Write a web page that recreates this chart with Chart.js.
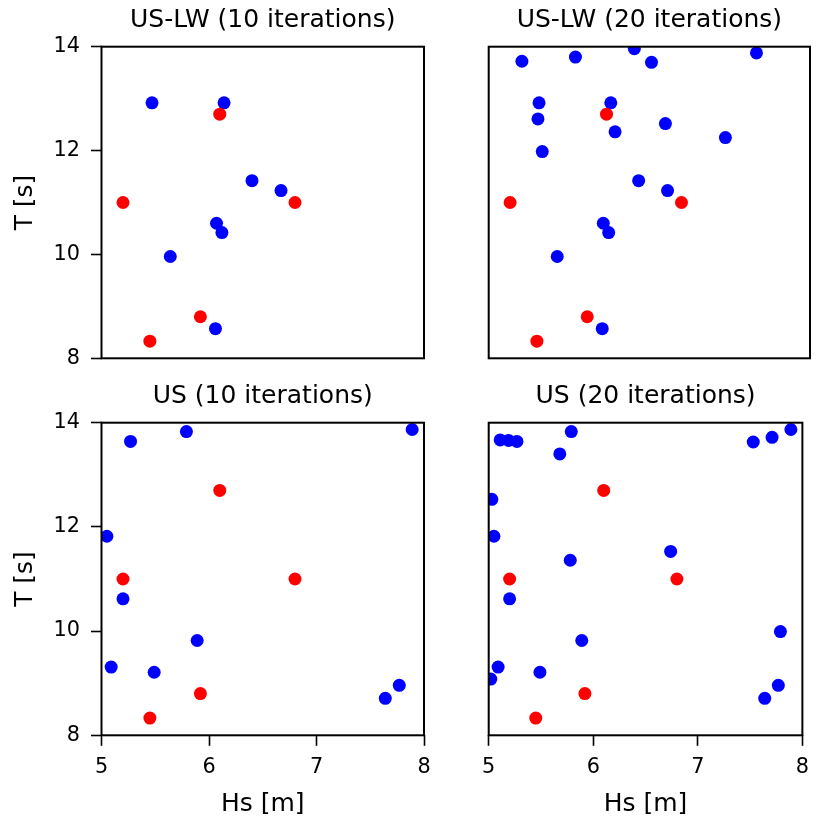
<!DOCTYPE html>
<html lang="en">
<head>
<meta charset="UTF-8">
<title>Hs / T scatter</title>
<script src="https://cdn.jsdelivr.net/npm/chart.js"></script>
<style>
  body { margin: 0; background: #fff; }
  #fig { position: relative; width: 818px; height: 822px; }
  canvas { position: absolute; }
</style>
</head>
<body>
<div id="fig">
  <canvas id="c1" width="440" height="390" style="left:0;top:0"></canvas>
  <canvas id="c2" width="378" height="390" style="left:440px;top:0"></canvas>
  <canvas id="c3" width="440" height="442" style="left:0;top:380px"></canvas>
  <canvas id="c4" width="378" height="442" style="left:440px;top:380px"></canvas>
</div>
<script>
// red points, same in every panel
const redHs = [5.20, 6.10, 6.80, 5.92, 5.45];
const redT  = [11.00, 12.70, 11.00, 8.80, 8.33];

// US-LW, 10 iterations
const uslw10Hs = [5.47, 6.14, 6.40, 6.67, 6.07, 6.12, 5.64, 6.06];
const uslw10T  = [12.92, 12.92, 11.42, 11.23, 10.60, 10.42, 9.96, 8.57];

// US-LW, 20 iterations
const uslw20Hs = [5.47, 6.14, 6.40, 6.67, 6.07, 6.12, 5.64, 6.06,
                  5.31, 5.81, 6.36, 6.52, 7.50, 5.46, 6.65, 6.18, 7.21, 5.50];
const uslw20T  = [12.92, 12.92, 11.42, 11.23, 10.60, 10.42, 9.96, 8.57,
                  13.72, 13.80, 13.96, 13.70, 13.88, 12.61, 12.52, 12.36, 12.25, 11.98];

// US, 10 iterations
const us10Hs = [5.27, 5.79, 7.89, 5.05, 5.20, 5.89, 5.09, 5.49, 7.77, 7.64];
const us10T  = [13.64, 13.83, 13.87, 11.82, 10.62, 9.82, 9.31, 9.21, 8.96, 8.71];

// US, 20 iterations
const us20Hs = [5.27, 5.79, 7.89, 5.05, 5.20, 5.89, 5.09, 5.49, 7.77, 7.64,
                5.11, 5.19, 5.68, 7.53, 7.71, 5.03, 6.74, 5.78, 7.79, 5.02];
const us20T  = [13.64, 13.83, 13.87, 11.82, 10.62, 9.82, 9.31, 9.21, 8.96, 8.71,
                13.67, 13.66, 13.40, 13.63, 13.72, 12.53, 11.53, 11.36, 9.99, 9.08];

const xTicks = [5, 6, 7, 8];
const yTicks = [8, 10, 12, 14];

const FONT = '"DejaVu Sans"';

function toPoints(xs, ys) {
  return xs.map((x, i) => ({ x: x, y: ys[i] }));
}

// box round the plot area + panel title
const framePlugin = {
  id: 'frame',
  afterDraw(chart, args, opts) {
    const ctx = chart.ctx;
    const a = chart.chartArea;
    ctx.save();
    ctx.strokeStyle = '#000';
    ctx.lineWidth = 2;
    ctx.strokeRect(a.left, a.top, a.right - a.left, a.bottom - a.top);
    ctx.fillStyle = '#000';
    ctx.font = '25px ' + FONT;
    ctx.textAlign = 'center';
    ctx.textBaseline = 'alphabetic';
    ctx.fillText(opts.title, (a.left + a.right) / 2, a.top - 20);
    ctx.restore();
  }
};

function makeChart(id, title, blueHs, blueT, showX, showY, pad) {
  const tickGrid = {
    drawOnChartArea: false,
    drawTicks: true,
    tickLength: 10.5,
    tickWidth: 1.6,
    tickColor: '#000'
  };
  return new Chart(document.getElementById(id), {
    type: 'scatter',
    data: {
      datasets: [
        {
          data: toPoints(redHs, redT),
          backgroundColor: '#ff0000',
          pointRadius: 6.5,
          pointHoverRadius: 6.5,
          borderWidth: 0
        },
        {
          data: toPoints(blueHs, blueT),
          backgroundColor: '#0000ff',
          pointRadius: 6.5,
          pointHoverRadius: 6.5,
          borderWidth: 0
        }
      ]
    },
    options: {
      responsive: false,
      animation: false,
      devicePixelRatio: 1,
      layout: { padding: pad },
      plugins: {
        legend: { display: false },
        tooltip: { enabled: false },
        frame: { title: title }
      },
      scales: {
        x: {
          display: showX,
          min: 5,
          max: 8,
          afterBuildTicks: s => { s.ticks = xTicks.map(v => ({ value: v })); },
          afterFit: s => { s.height = showX ? 86.7 : 0; },
          grid: tickGrid,
          border: { display: false },
          ticks: { color: '#000', padding: 9, font: { family: FONT, size: 20.8 } },
          title: {
            display: true,
            text: 'Hs [m]',
            color: '#000',
            font: { family: FONT, size: 25 },
            padding: { top: 0, bottom: 3 }
          }
        },
        y: {
          display: showY,
          min: 8,
          max: 14,
          afterBuildTicks: s => { s.ticks = yTicks.map(v => ({ value: v })); },
          afterFit: s => { s.width = showY ? 101.5 : 0; },
          grid: tickGrid,
          border: { display: false },
          ticks: { color: '#000', padding: 11, font: { family: FONT, size: 20.8 } },
          title: {
            display: true,
            text: 'T [s]',
            color: '#000',
            font: { family: FONT, size: 25 },
            padding: { top: 10.5, bottom: 0 }
          }
        }
      }
    },
    plugins: [framePlugin]
  });
}

makeChart('c1', 'US-LW (10 iterations)', uslw10Hs, uslw10T, false, true,
  { left: 0, top: 46.7, right: 16, bottom: 31.7 });
makeChart('c2', 'US-LW (20 iterations)', uslw20Hs, uslw20T, false, false,
  { left: 48.7, top: 46.7, right: 8, bottom: 31.7 });
makeChart('c3', 'US (10 iterations)', us10Hs, us10T, true, true,
  { left: 0, top: 42.7, right: 16, bottom: 0 });
makeChart('c4', 'US (20 iterations)', us20Hs, us20T, true, false,
  { left: 48.7, top: 42.7, right: 8, bottom: 0 });
</script>
</body>
</html>
